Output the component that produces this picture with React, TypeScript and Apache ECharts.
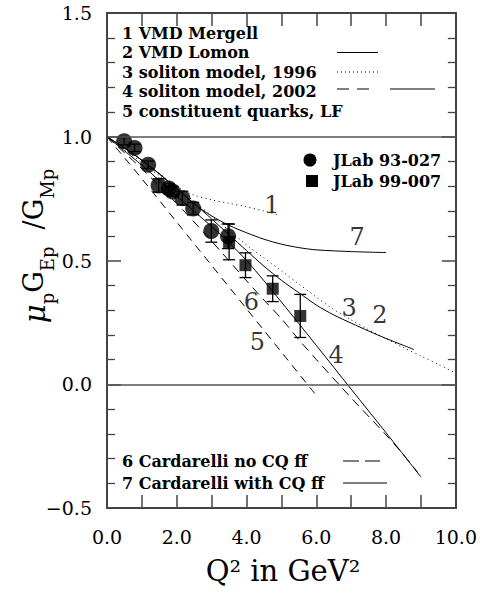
import React, { useEffect, useRef } from 'react';
import * as echarts from 'echarts';

const FONT = '"DejaVu Serif", "Liberation Serif", serif';

// ---- data: JLab measurements ----
const jlab93Q2 = [0.49, 0.79, 1.18, 1.48, 1.77, 1.88, 2.16, 2.47, 2.99, 3.47];
const jlab93Ratio = [0.982, 0.955, 0.887, 0.803, 0.791, 0.779, 0.752, 0.71, 0.619, 0.598];
const jlab93Err = [0.015, 0.015, 0.015, 0.027, 0.02, 0.02, 0.028, 0.025, 0.045, 0.05];

const jlab99Q2 = [3.5, 3.97, 4.75, 5.54];
const jlab99Ratio = [0.575, 0.481, 0.386, 0.276];
const jlab99Err = [0.072, 0.05, 0.052, 0.087];

// ---- theory curves [Q2, ratio] ----
const curve1VmdMergell = [[0, 1.0], [0.5, 0.95], [1, 0.895], [1.5, 0.843], [2, 0.797], [2.5, 0.764], [3, 0.745], [3.5, 0.731], [4, 0.717], [4.5, 0.7], [4.9, 0.684]];
const curve2VmdLomon = [[0, 1.0], [0.5, 0.955], [1, 0.905], [1.5, 0.85], [2, 0.79], [2.5, 0.73], [3, 0.668], [3.5, 0.604], [4, 0.54], [4.5, 0.477], [5, 0.42], [5.5, 0.37], [6, 0.32], [6.5, 0.28], [7, 0.247], [7.5, 0.215], [8, 0.185], [8.5, 0.157], [8.8, 0.14]];
const curve3Soliton1996 = [[0, 1.0], [0.5, 0.955], [1, 0.905], [1.5, 0.852], [2, 0.796], [2.5, 0.738], [3, 0.68], [3.5, 0.621], [4, 0.563], [4.5, 0.51], [5, 0.458], [5.5, 0.405], [6, 0.352], [6.5, 0.302], [7, 0.26], [7.5, 0.22], [8, 0.184], [8.5, 0.148], [9, 0.114], [9.5, 0.08], [10, 0.045]];
const curve4Soliton2002 = [[0, 1.0], [1, 0.885], [2, 0.76], [3, 0.637], [3.5, 0.572], [4, 0.5], [4.5, 0.418], [5, 0.332], [5.5, 0.245], [6, 0.157], [7, -0.02], [8, -0.196], [9, -0.375]];
const curve5ConstQuarks = [[0, 1.0], [1, 0.83], [2, 0.655], [3, 0.48], [4, 0.305], [5, 0.13], [6, -0.045]];
const curve6CardarelliNoFF = [[0, 1.0], [1, 0.87], [2, 0.73], [3, 0.578], [4, 0.418], [4.5, 0.34], [5, 0.265], [5.5, 0.18], [6, 0.1], [7, -0.055], [8, -0.205], [8.5, -0.285], [8.9, -0.355]];
const curve7CardarelliFF = [[0, 1.0], [0.5, 0.955], [1, 0.905], [1.5, 0.85], [2, 0.79], [2.5, 0.728], [3, 0.68], [3.5, 0.642], [4, 0.612], [4.5, 0.586], [5, 0.566], [5.5, 0.552], [6, 0.543], [7, 0.536], [8, 0.532]];

// curve number labels [text, Q2, ratio]
const curveLabels = [['1', 4.73, 0.724], ['7', 7.17, 0.595], ['3', 6.94, 0.308], ['2', 7.82, 0.28], ['4', 6.57, 0.118], ['6', 4.14, 0.333], ['5', 4.31, 0.171]];

// reference lines
const refLines = [0, 1];

// legend texts
const legendTop = ['1 VMD Mergell', '2 VMD Lomon', '3 soliton model, 1996', '4 soliton model, 2002', '5 constituent quarks, LF'];
const legendBottom = ['6 Cardarelli no CQ ff', '7 Cardarelli with CQ ff'];
const dataLegend = ['JLab 93-027', 'JLab 99-007'];

const xTitle = 'Q² in GeV²';

function errRender(params: any, api: any) {
  const x = api.value(0), y = api.value(1), e = api.value(2);
  const top = api.coord([x, y + e]);
  const bot = api.coord([x, y - e]);
  const hw = 6;
  const style = { stroke: '#000', lineWidth: 1.3 };
  return {
    type: 'group',
    children: [
      { type: 'line', shape: { x1: top[0], y1: top[1], x2: bot[0], y2: bot[1] }, style },
      { type: 'line', shape: { x1: top[0] - hw, y1: top[1], x2: top[0] + hw, y2: top[1] }, style },
      { type: 'line', shape: { x1: bot[0] - hw, y1: bot[1], x2: bot[0] + hw, y2: bot[1] }, style },
    ],
  };
}

function curve(name: string, data: number[][], type: any, extra: any = {}) {
  return {
    name, type: 'line', data, showSymbol: false, symbol: 'none', smooth: 0.3,
    lineStyle: { color: '#000', width: 1, type }, z: 2, silent: true, ...extra,
  };
}

export default function App() {
  const ref = useRef<HTMLDivElement>(null);
  useEffect(() => {
    const chart = echarts.init(ref.current!, null, { renderer: 'svg' });
    const axisCol = '#444';
    const legTextStyle = { fontFamily: FONT, fontSize: 16, fontWeight: 'bold', fill: '#000', verticalAlign: 'middle' };
    const graphics: any[] = [];
    legendTop.forEach((t, i) => {
      graphics.push({ type: 'text', x: 122, y: 33 + i * 19.5, style: { text: t, ...legTextStyle } });
    });
    // legend line samples
    graphics.push({ type: 'line', shape: { x1: 337, y1: 52.5, x2: 378, y2: 52.5 }, style: { stroke: '#000', lineWidth: 1 } });
    graphics.push({ type: 'line', shape: { x1: 337, y1: 72, x2: 378, y2: 72 }, style: { stroke: '#000', lineWidth: 1, lineDash: [1, 3] } });
    graphics.push({ type: 'line', shape: { x1: 337, y1: 89, x2: 369, y2: 89 }, style: { stroke: '#000', lineWidth: 1, lineDash: [12, 8] } });
    graphics.push({ type: 'line', shape: { x1: 390, y1: 89, x2: 435, y2: 89 }, style: { stroke: '#000', lineWidth: 1 } });
    legendBottom.forEach((t, i) => {
      graphics.push({ type: 'text', x: 122, y: 461 + i * 22, style: { text: t, ...legTextStyle } });
    });
    graphics.push({ type: 'line', shape: { x1: 343, y1: 461, x2: 380, y2: 461 }, style: { stroke: '#000', lineWidth: 1, lineDash: [16, 6] } });
    graphics.push({ type: 'line', shape: { x1: 343, y1: 483, x2: 387, y2: 483 }, style: { stroke: '#000', lineWidth: 1 } });
    // data legend
    graphics.push({ type: 'circle', shape: { cx: 310, cy: 160, r: 6.5 }, style: { fill: '#000' } });
    graphics.push({ type: 'rect', shape: { x: 306, y: 175, width: 12, height: 12 }, style: { fill: '#000' } });
    dataLegend.forEach((t, i) => {
      graphics.push({ type: 'text', x: 333, y: 160 + i * 21, style: { text: t, ...legTextStyle } });
    });
    // axis titles
    graphics.push({ type: 'text', x: 283, y: 571, style: { text: xTitle, fontFamily: FONT, fontSize: 29, fill: '#000', align: 'center', verticalAlign: 'middle' } });
    graphics.push({
      type: 'text', x: 38, y: 246, rotation: Math.PI / 2,
      style: {
        text: '{m|μ}{s|p}{g|G}{s|Ep}{g|  /G}{s|Mp}',
        align: 'center', verticalAlign: 'middle', fill: '#000',
        rich: {
          m: { fontFamily: FONT, fontSize: 29, fontStyle: 'italic', lineHeight: 36, verticalAlign: 'top' },
          g: { fontFamily: FONT, fontSize: 27, lineHeight: 36, verticalAlign: 'top' },
          s: { fontFamily: FONT, fontSize: 18, lineHeight: 18, verticalAlign: 'bottom' },
        },
      },
    });

    const baseX = {
      type: 'value', min: 0, max: 10, interval: 1,
      axisLine: { show: true, onZero: false, lineStyle: { color: axisCol, width: 2 } },
      axisTick: { show: true, inside: true, length: 13, lineStyle: { color: axisCol, width: 1.5 } },
      splitLine: { show: false },
    };
    const baseY = {
      type: 'value', min: -0.5, max: 1.5, interval: 0.5,
      axisLine: { show: true, onZero: false, lineStyle: { color: axisCol, width: 2 } },
      axisTick: { show: true, inside: true, length: 14, lineStyle: { color: axisCol, width: 1.5 } },
      minorTick: { show: true, splitNumber: 5, length: 8, lineStyle: { color: axisCol, width: 1.3 } },
      splitLine: { show: false },
    };

    chart.setOption({
      animation: false,
      grid: { left: 107, right: 20, top: 13, bottom: 85 },
      xAxis: [
        { ...baseX, position: 'bottom', axisLabel: { margin: 19, fontFamily: FONT, fontSize: 19, color: '#000', formatter: (v: number) => (Math.round(v) % 2 === 0 ? v.toFixed(1) : '') } },
        { ...baseX, position: 'top', axisLabel: { show: false } },
      ],
      yAxis: [
        { ...baseY, position: 'left', axisLabel: { margin: 15, fontFamily: FONT, fontSize: 19, color: '#000', formatter: (v: number) => (v < 0 ? '−' + Math.abs(v).toFixed(1) : v.toFixed(1)) } },
        { ...baseY, position: 'right', axisLabel: { show: false } },
      ],
      graphic: graphics,
      series: [
        curve('1', curve1VmdMergell, [1, 3.5], {
          markLine: {
            silent: true, symbol: ['none', 'none'], label: { show: false },
            lineStyle: { color: '#555', width: 1.6, type: 'solid' },
            data: refLines.map((v) => ({ yAxis: v })),
          },
        }),
        curve('2', curve2VmdLomon, 'solid'),
        curve('3', curve3Soliton1996, [1, 3.5]),
        curve('4', curve4Soliton2002, 'solid'),
        curve('5', curve5ConstQuarks, [8, 6]),
        curve('6', curve6CardarelliNoFF, [9, 6]),
        curve('7', curve7CardarelliFF, 'solid'),
        {
          name: 'err93', type: 'custom', renderItem: errRender, z: 3, silent: true,
          encode: { x: 0, y: 1 },
          data: jlab93Q2.map((q, i) => [q, jlab93Ratio[i], jlab93Err[i]]),
        },
        {
          name: 'err99', type: 'custom', renderItem: errRender, z: 3, silent: true,
          encode: { x: 0, y: 1 },
          data: jlab99Q2.map((q, i) => [q, jlab99Ratio[i], jlab99Err[i]]),
        },
        {
          name: 'JLab 93-027', type: 'scatter', symbol: 'circle', symbolSize: 16, z: 4,
          itemStyle: { color: '#000' },
          data: jlab93Q2.map((q, i) => [q, jlab93Ratio[i]]),
        },
        {
          name: 'JLab 99-007', type: 'scatter', symbol: 'rect', symbolSize: 12, z: 4,
          itemStyle: { color: '#000' },
          data: jlab99Q2.map((q, i) => [q, jlab99Ratio[i]]),
        },
        {
          name: 'labels', type: 'scatter', symbol: 'circle', symbolSize: 1, z: 5, silent: true,
          itemStyle: { color: 'rgba(0,0,0,0)' },
          label: { show: true, position: 'inside', formatter: '{b}', fontFamily: FONT, fontSize: 24, color: '#000' },
          data: curveLabels.map((l) => ({ name: l[0], value: [l[1], l[2]] })),
        },
      ],
    });
    return () => chart.dispose();
  }, []);
  return <div ref={ref} style={{ position: 'fixed', left: 0, top: 0, width: 480, height: 593, background: '#fff' }} />;
}
